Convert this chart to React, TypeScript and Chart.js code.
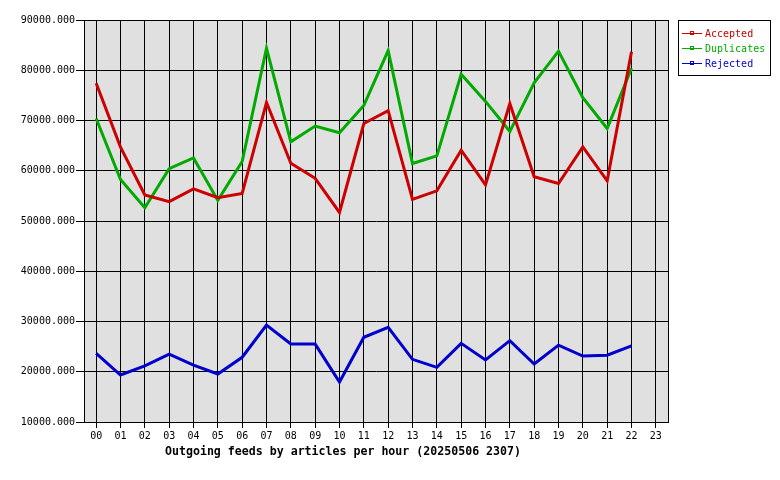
import React, { useEffect, useRef } from "react";
import { Chart, registerables } from "chart.js";

Chart.register(...registerables);

const hours = ["00","01","02","03","04","05","06","07","08","09","10","11","12","13","14","15","16","17","18","19","20","21","22","23"];

const accepted = [77400, 64700, 55200, 53850, 56400, 54650, 55500, 73600, 61500, 58500, 51700, 69400, 71950, 54300, 56000, 64100, 57200, 73400, 58800, 57450, 64750, 58000, 83700, null];
const duplicates = [70400, 58250, 52650, 60400, 62550, 54100, 61850, 84400, 65750, 68900, 67550, 73000, 83900, 61450, 62950, 79200, 73800, 67800, 77500, 83800, 74550, 68400, 80400, null];
const rejected = [23650, 19350, 21150, 23520, 21300, 19550, 22880, 29300, 25520, 25500, 17960, 26860, 28850, 22470, 20880, 25650, 22340, 26180, 21550, 25300, 23120, 23280, 25130, null];

const seriesNames = ["Accepted", "Duplicates", "Rejected"];
const seriesColors = ["#cc0000", "#00aa00", "#0000cc"];
const chartTitle = "Outgoing feeds by articles per hour (20250506 2307)";

const mono = "'DejaVu Sans Mono', 'Liberation Mono', monospace";

const framePlugin = {
  id: "frame",
  beforeDraw(chart: any) {
    const { ctx, chartArea } = chart;
    ctx.save();
    ctx.fillStyle = "#ffffff";
    ctx.fillRect(0, 0, chart.width, chart.height);
    ctx.fillStyle = "#e0e0e0";
    ctx.fillRect(chartArea.left, chartArea.top, chartArea.right - chartArea.left, chartArea.bottom - chartArea.top);
    ctx.restore();
  },
  afterDatasetsDraw(chart: any) {
    const { ctx, chartArea } = chart;
    ctx.save();
    ctx.strokeStyle = "#000000";
    ctx.lineWidth = 1;
    ctx.strokeRect(
      Math.round(chartArea.left) + 0.5,
      Math.round(chartArea.top) + 0.5,
      Math.round(chartArea.right - chartArea.left),
      Math.round(chartArea.bottom - chartArea.top)
    );
    // title
    ctx.fillStyle = "#000000";
    ctx.font = "bold 11.6px " + mono;
    ctx.textAlign = "center";
    ctx.textBaseline = "middle";
    ctx.fillText(chartTitle, 343, 452);
    // legend
    const bx = 678, by = 20, bw = 92, bh = 55;
    ctx.fillStyle = "#ffffff";
    ctx.fillRect(bx, by, bw, bh);
    ctx.strokeStyle = "#000000";
    ctx.lineWidth = 1;
    ctx.strokeRect(bx + 0.5, by + 0.5, bw, bh);
    ctx.font = "10px " + mono;
    ctx.textAlign = "left";
    chart.data.datasets.forEach((ds: any, i: number) => {
      const col = seriesColors[i];
      const y = 33 + i * 15;
      ctx.fillStyle = col;
      ctx.fillRect(682, y, 20, 1);
      ctx.fillRect(690, y - 2, 4, 1);
      ctx.fillRect(690, y + 1, 4, 1);
      ctx.fillRect(690, y - 2, 1, 4);
      ctx.fillRect(693, y - 2, 1, 4);
      ctx.fillStyle = col;
      ctx.fillText(ds.label, 705, y + 1);
    });
    ctx.restore();
  },
};

export default function App() {
  const ref = useRef<HTMLCanvasElement | null>(null);
  useEffect(() => {
    document.body.style.margin = "0";
    const canvas = ref.current;
    if (!canvas) return;
    const data = [accepted, duplicates, rejected];
    const chart = new Chart(canvas, {
      type: "line",
      data: {
        labels: hours,
        datasets: data.map((d, i) => ({
          label: seriesNames[i],
          data: d,
          borderColor: seriesColors[i],
          backgroundColor: seriesColors[i],
          borderWidth: 3,
          pointRadius: 0,
          tension: 0,
          fill: false,
          spanGaps: false,
        })),
      },
      options: {
        responsive: false,
        animation: false,
        devicePixelRatio: 1,
        layout: { padding: { left: 0, right: 112, top: 20, bottom: 0 } },
        plugins: {
          legend: { display: false },
          title: { display: false },
          tooltip: { enabled: false },
        },
        scales: {
          x: {
            type: "category",
            offset: true,
            grid: { offset: false, color: "#000000", lineWidth: 1, tickLength: 6, drawOnChartArea: true },
            border: { display: true, color: "#000000" },
            ticks: { color: "#000000", font: { family: mono, size: 10 }, padding: 2, maxRotation: 0, autoSkip: false },
            afterFit(scale: any) { scale.height = 58; },
          },
          y: {
            min: 10000,
            max: 90000,
            grid: { color: "#000000", lineWidth: 1, tickLength: 8 },
            border: { display: true, color: "#000000" },
            ticks: {
              stepSize: 10000,
              color: "#000000",
              font: { family: mono, size: 10 },
              padding: 1,
              callback: (v: any) => Number(v).toFixed(3),
            },
            afterFit(scale: any) { scale.width = 84; },
          },
        },
      },
      plugins: [framePlugin],
    });
    return () => chart.destroy();
  }, []);
  return (
    <div style={{ width: 780, height: 480 }}>
      <canvas ref={ref} width={780} height={480} style={{ display: "block", width: 780, height: 480 }} />
    </div>
  );
}
